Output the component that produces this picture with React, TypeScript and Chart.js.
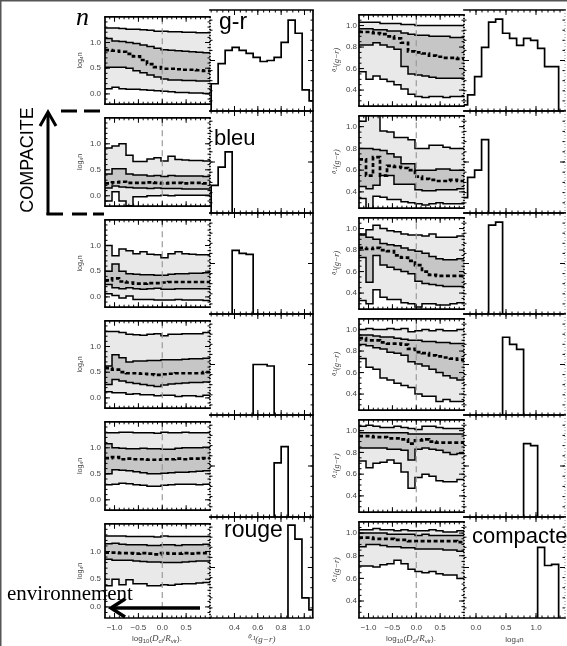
import { useEffect, useRef } from "react";
import { Chart, registerables } from "chart.js";

Chart.register(...registerables);

// ---------- bin edges ----------
const DIST_EDGES = [-1.2, -1.053, -0.907, -0.76, -0.613, -0.467, -0.32, -0.173, -0.027, 0.12, 0.267, 0.413, 0.56, 0.707, 0.853, 1.0];
const GR_EDGES = [0.2, 0.26, 0.32, 0.38, 0.44, 0.5, 0.56, 0.62, 0.68, 0.74, 0.8, 0.86, 0.92, 0.98, 1.04, 1.1];
const LOGN_EDGES = [-0.257, -0.14, -0.023, 0.093, 0.21, 0.327, 0.443, 0.56, 0.677, 0.793, 0.91, 1.027, 1.143, 1.26, 1.377, 1.493];

// ---------- tick labels ----------
const DIST_TICKS = [-1.0, -0.5, 0.0, 0.5];
const LOGN_TICKS = [0.0, 0.5, 1.0];
const GR_TICKS = [0.4, 0.6, 0.8, 1.0];

// ---------- left pair: log4 n vs log10(Dcl/Rvir), per colour bin ----------
// rows of each: [p95, p75, median, p25, p05]
const N_ALL = [
  [1.28, 1.28, 1.27, 1.26, 1.26, 1.25, 1.24, 1.22, 1.22, 1.21, 1.21, 1.2, 1.2, 1.19, 1.19],
  [1.08, 1.03, 1.02, 1.0, 0.98, 0.95, 0.92, 0.89, 0.86, 0.85, 0.84, 0.83, 0.82, 0.81, 0.8],
  [0.85, 0.84, 0.82, 0.78, 0.73, 0.66, 0.58, 0.52, 0.49, 0.49, 0.48, 0.47, 0.47, 0.46, 0.45],
  [0.52, 0.52, 0.52, 0.5, 0.45, 0.41, 0.37, 0.33, 0.29, 0.27, 0.27, 0.26, 0.26, 0.25, 0.25],
  [0.1, 0.13, 0.1, 0.09, 0.09, 0.08, 0.07, 0.06, 0.05, 0.04, 0.03, 0.03, 0.02, 0.02, 0.01],
];
const N_BLEU = [
  [0.92, 0.96, 1.0, 0.78, 0.66, 0.66, 0.71, 0.73, 0.67, 0.76, 0.7, 0.69, 0.68, 0.68, 0.67],
  [0.42, 0.52, 0.52, 0.42, 0.4, 0.4, 0.38, 0.39, 0.37, 0.39, 0.38, 0.38, 0.38, 0.38, 0.37],
  [0.24, 0.26, 0.27, 0.25, 0.25, 0.25, 0.26, 0.25, 0.24, 0.25, 0.25, 0.24, 0.25, 0.25, 0.24],
  [0.15, 0.19, 0.17, 0.16, 0.15, 0.15, 0.14, 0.15, 0.14, 0.14, 0.14, 0.13, 0.13, 0.13, 0.13],
  [-0.1, 0.08, -0.1, -0.19, -0.02, -0.02, 0.0, 0.0, 0.01, 0.0, 0.01, 0.01, 0.01, 0.01, 0.01],
];
const N_C2 = [
  [1.0, 0.8, 0.93, 0.9, 0.84, 0.88, 0.83, 0.82, 0.76, 0.84, 0.88, 0.84, 0.83, 0.82, 0.82],
  [0.5, 0.64, 0.5, 0.45, 0.44, 0.43, 0.43, 0.42, 0.42, 0.44, 0.45, 0.45, 0.46, 0.46, 0.47],
  [0.32, 0.36, 0.3, 0.28, 0.26, 0.26, 0.27, 0.27, 0.28, 0.29, 0.29, 0.29, 0.29, 0.29, 0.29],
  [0.24, 0.18, 0.16, 0.18, 0.16, 0.15, 0.16, 0.17, 0.15, 0.15, 0.16, 0.16, 0.16, 0.16, 0.16],
  [0.06, 0.03, -0.02, 0.02, -0.05, -0.05, -0.05, -0.06, -0.06, -0.06, -0.05, -0.06, -0.06, -0.06, -0.07],
];
const N_C3 = [
  [1.29, 1.29, 1.27, 1.24, 1.23, 1.22, 1.24, 1.25, 1.21, 1.24, 1.24, 1.25, 1.25, 1.25, 1.27],
  [0.62, 0.84, 0.78, 0.7, 0.72, 0.72, 0.73, 0.73, 0.74, 0.74, 0.74, 0.75, 0.76, 0.76, 0.77],
  [0.58, 0.55, 0.5, 0.48, 0.48, 0.47, 0.46, 0.45, 0.46, 0.47, 0.48, 0.48, 0.48, 0.48, 0.5],
  [0.26, 0.36, 0.33, 0.3, 0.28, 0.26, 0.24, 0.22, 0.25, 0.27, 0.28, 0.29, 0.3, 0.3, 0.31],
  [0.12, 0.1, 0.1, 0.07, 0.08, 0.06, 0.06, 0.04, 0.05, 0.05, 0.03, 0.04, 0.04, 0.03, 0.05],
];
const N_C4 = [
  [1.29, 1.29, 1.3, 1.3, 1.29, 1.29, 1.29, 1.28, 1.3, 1.29, 1.29, 1.3, 1.29, 1.29, 1.29],
  [1.08, 1.0, 0.99, 0.98, 0.98, 0.99, 0.98, 0.98, 0.97, 0.97, 0.99, 1.0, 1.0, 1.0, 1.01],
  [0.8, 0.82, 0.78, 0.79, 0.78, 0.78, 0.77, 0.77, 0.78, 0.78, 0.79, 0.78, 0.79, 0.79, 0.8],
  [0.5, 0.58, 0.57, 0.56, 0.54, 0.52, 0.5, 0.5, 0.51, 0.52, 0.53, 0.53, 0.54, 0.55, 0.56],
  [0.29, 0.3, 0.32, 0.31, 0.29, 0.28, 0.26, 0.26, 0.28, 0.29, 0.3, 0.3, 0.3, 0.29, 0.3],
];
const N_ROUGE = [
  [1.28, 1.28, 1.28, 1.27, 1.27, 1.27, 1.27, 1.26, 1.28, 1.27, 1.27, 1.27, 1.27, 1.27, 1.27],
  [1.14, 1.15, 1.13, 1.12, 1.12, 1.12, 1.11, 1.11, 1.12, 1.12, 1.11, 1.12, 1.12, 1.12, 1.13],
  [0.98, 0.98, 0.97, 0.97, 0.96, 0.97, 0.96, 0.95, 0.97, 0.96, 0.96, 0.97, 0.96, 0.97, 0.97],
  [0.86, 0.84, 0.84, 0.84, 0.83, 0.82, 0.81, 0.81, 0.8, 0.8, 0.8, 0.81, 0.82, 0.83, 0.83],
  [0.38, 0.5, 0.4, 0.49, 0.42, 0.42, 0.38, 0.38, 0.4, 0.39, 0.41, 0.42, 0.42, 0.43, 0.44],
];

// ---------- right pair: 0.1(g-r) vs log10(Dcl/Rvir), per compactness bin ----------
const G_ALL = [
  [1.03, 1.03, 1.03, 1.02, 1.02, 1.02, 1.01, 1.01, 1.0, 1.0, 1.0, 1.0, 1.0, 1.0, 1.0],
  [0.97, 0.97, 0.96, 0.96, 0.95, 0.95, 0.93, 0.92, 0.91, 0.91, 0.9, 0.9, 0.9, 0.89, 0.89],
  [0.94, 0.94, 0.93, 0.92, 0.9, 0.88, 0.84, 0.76, 0.75, 0.74, 0.72, 0.71, 0.7, 0.7, 0.69],
  [0.82, 0.82, 0.84, 0.82, 0.8, 0.78, 0.62, 0.55, 0.54, 0.53, 0.52, 0.51, 0.51, 0.51, 0.51],
  [0.57, 0.5, 0.53, 0.5, 0.48, 0.45, 0.41, 0.36, 0.34, 0.33, 0.34, 0.34, 0.33, 0.34, 0.34],
];
const G_C1 = [
  [1.05, 1.15, 1.15, 0.96, 0.95, 0.9, 0.9, 0.88, 0.8, 0.8, 0.83, 0.83, 0.81, 0.8, 0.8],
  [0.8, 0.8, 0.79, 0.78, 0.75, 0.72, 0.66, 0.66, 0.6, 0.6, 0.6, 0.61, 0.61, 0.6, 0.6],
  [0.7, 0.55, 0.72, 0.55, 0.64, 0.63, 0.62, 0.6, 0.54, 0.52, 0.51, 0.5, 0.5, 0.51, 0.5],
  [0.45, 0.43, 0.46, 0.55, 0.55, 0.47, 0.47, 0.47, 0.42, 0.41, 0.41, 0.42, 0.42, 0.42, 0.43],
  [0.34, 0.2, 0.36, 0.35, 0.33, 0.33, 0.31, 0.3, 0.29, 0.28, 0.29, 0.3, 0.29, 0.29, 0.29],
];
const G_C2 = [
  [0.95, 0.99, 1.03, 1.0, 0.98, 0.97, 0.95, 0.94, 0.94, 0.93, 0.95, 0.92, 0.92, 0.92, 0.93],
  [0.94, 0.92, 0.9, 0.86, 0.85, 0.84, 0.82, 0.8, 0.79, 0.77, 0.74, 0.72, 0.71, 0.71, 0.72],
  [0.82, 0.81, 0.82, 0.8, 0.79, 0.75, 0.73, 0.7, 0.66, 0.6, 0.57, 0.56, 0.56, 0.56, 0.56],
  [0.73, 0.5, 0.75, 0.66, 0.64, 0.62, 0.6, 0.58, 0.51, 0.49, 0.48, 0.47, 0.46, 0.46, 0.46],
  [0.33, 0.3, 0.43, 0.36, 0.34, 0.34, 0.31, 0.3, 0.27, 0.3, 0.3, 0.29, 0.29, 0.3, 0.31],
];
const G_C3 = [
  [1.0, 1.01, 1.0, 1.0, 1.01, 1.0, 1.01, 0.98, 0.99, 1.0, 0.99, 1.0, 0.99, 0.99, 1.0],
  [0.95, 0.95, 0.94, 0.93, 0.93, 0.92, 0.91, 0.9, 0.9, 0.89, 0.89, 0.88, 0.88, 0.87, 0.87],
  [0.92, 0.9, 0.9, 0.88, 0.87, 0.87, 0.86, 0.82, 0.79, 0.78, 0.76, 0.75, 0.74, 0.73, 0.72],
  [0.86, 0.85, 0.83, 0.82, 0.79, 0.78, 0.76, 0.7, 0.68, 0.66, 0.63, 0.6, 0.57, 0.55, 0.53],
  [0.73, 0.65, 0.63, 0.55, 0.53, 0.5, 0.48, 0.46, 0.4, 0.38, 0.38, 0.33, 0.35, 0.33, 0.33],
];
const G_C4 = [
  [1.04, 1.05, 1.04, 1.03, 1.03, 1.04, 1.03, 1.02, 1.01, 1.04, 1.04, 1.03, 1.02, 1.02, 1.02],
  [0.98, 0.98, 0.98, 0.98, 0.98, 0.98, 0.98, 0.97, 0.97, 0.97, 0.97, 0.97, 0.97, 0.97, 0.97],
  [0.95, 0.95, 0.94, 0.94, 0.93, 0.93, 0.92, 0.88, 0.91, 0.92, 0.9, 0.89, 0.89, 0.89, 0.89],
  [0.84, 0.84, 0.84, 0.84, 0.83, 0.83, 0.82, 0.73, 0.83, 0.84, 0.83, 0.82, 0.8, 0.78, 0.79],
  [0.72, 0.66, 0.7, 0.71, 0.73, 0.7, 0.62, 0.47, 0.57, 0.6, 0.58, 0.54, 0.53, 0.53, 0.55],
];
const G_COMPACT = [
  [1.03, 1.03, 1.04, 1.03, 1.03, 1.02, 1.03, 1.02, 1.02, 1.02, 1.03, 1.02, 1.01, 1.01, 1.02],
  [1.0, 1.0, 1.0, 1.0, 0.99, 0.99, 0.99, 0.99, 0.98, 0.99, 0.98, 0.98, 0.98, 0.98, 0.98],
  [0.96, 0.96, 0.95, 0.95, 0.95, 0.94, 0.94, 0.93, 0.93, 0.93, 0.93, 0.93, 0.93, 0.93, 0.92],
  [0.88, 0.9, 0.9, 0.89, 0.88, 0.88, 0.87, 0.87, 0.86, 0.86, 0.86, 0.86, 0.85, 0.85, 0.84],
  [0.71, 0.71, 0.7, 0.72, 0.73, 0.76, 0.73, 0.68, 0.66, 0.65, 0.66, 0.64, 0.63, 0.63, 0.6],
];

// ---------- histograms (normalised heights) ----------
const GR_HIST_ALL = [0.27, 0.47, 0.6, 0.63, 0.6, 0.57, 0.53, 0.49, 0.5, 0.53, 0.68, 0.9, 0.77, 0.21, 0.1];
const GR_HIST_BLEU = [0.27, 0.45, 0.6, 0, 0, 0, 0, 0, 0, 0, 0, 0, 0, 0, 0];
const GR_HIST_C2 = [0, 0, 0, 0.63, 0.6, 0.59, 0, 0, 0, 0, 0, 0, 0, 0, 0];
const GR_HIST_C3 = [0, 0, 0, 0, 0, 0, 0.5, 0.5, 0.485, 0, 0, 0, 0, 0, 0];
const GR_HIST_C4 = [0, 0, 0, 0, 0, 0, 0, 0, 0, 0.53, 0.69, 0, 0, 0, 0];
const GR_HIST_ROUGE = [0, 0, 0, 0, 0, 0, 0, 0, 0, 0, 0, 0.92, 0.78, 0.2, 0.08];

const N_HIST_ALL = [0.06, 0.16, 0.34, 0.63, 0.88, 0.91, 0.77, 0.72, 0.65, 0.72, 0.7, 0.62, 0.44, 0.44, 0];
const N_HIST_C1 = [0.15, 0.35, 0.42, 0.72, 0, 0, 0, 0, 0, 0, 0, 0, 0, 0, 0];
const N_HIST_C2 = [0, 0, 0, 0, 0.88, 0.91, 0, 0, 0, 0, 0, 0, 0, 0, 0];
const N_HIST_C3 = [0, 0, 0, 0, 0, 0, 0.77, 0.7, 0.65, 0, 0, 0, 0, 0, 0];
const N_HIST_C4 = [0, 0, 0, 0, 0, 0, 0, 0, 0, 0.72, 0.7, 0, 0, 0, 0];
const N_HIST_COMPACT = [0, 0, 0, 0, 0, 0, 0, 0, 0, 0, 0, 0.7, 0.52, 0.53, 0];

const LEFT_PROFILES = [N_ALL, N_BLEU, N_C2, N_C3, N_C4, N_ROUGE];
const LEFT_HISTS = [GR_HIST_ALL, GR_HIST_BLEU, GR_HIST_C2, GR_HIST_C3, GR_HIST_C4, GR_HIST_ROUGE];
const RIGHT_PROFILES = [G_ALL, G_C1, G_C2, G_C3, G_C4, G_COMPACT];
const RIGHT_HISTS = [N_HIST_ALL, N_HIST_C1, N_HIST_C2, N_HIST_C3, N_HIST_C4, N_HIST_COMPACT];

// ---------- layout ----------
const ROW_EDGES = [10, 111, 213, 314, 415, 517, 618];
const COLS: any = { LP: [105, 210], LH: [210, 313], RP: [359, 464], RH: [464, 565] };
const LIGHT = "#e9e9e9";
const DARK = "#c6c6c6";
const SANS = "'Liberation Sans', Arial, Helvetica, sans-serif";
const SERIF = "'Liberation Serif', 'Times New Roman', serif";
const TICK_COLOR = "#444";

const fmt = (v: number) => (v < 0 ? "\u2212" : "") + Math.abs(v).toFixed(1);

function tickVals(min: number, max: number, step: number) {
  const out: number[] = [];
  const s = Math.ceil(min / step - 1e-9);
  for (let k = s; k * step <= max + 1e-9; k++) out.push(+(k * step).toFixed(6));
  return out;
}

const framePlugin = {
  id: "frame",
  afterDatasetsDraw(chart: any, _args: any, o: any) {
    const { ctx, chartArea: a } = chart;
    const xs = chart.scales.x;
    const ys = chart.scales.y;
    ctx.save();
    ctx.setLineDash([]);
    ctx.strokeStyle = "#000";
    const seg = (x1: number, y1: number, x2: number, y2: number) => {
      ctx.beginPath();
      ctx.moveTo(x1, y1);
      ctx.lineTo(x2, y2);
      ctx.stroke();
    };
    ctx.lineWidth = 1;
    const xt: any[] = [[o.xMinor, 2.5], [o.xMajor, 5]];
    for (const [vals, len] of xt)
      for (const v of vals) {
        const p = xs.getPixelForValue(v);
        if (p < a.left + 1 || p > a.right - 1) continue;
        seg(p, a.bottom, p, a.bottom - len);
        seg(p, a.top, p, a.top + len);
      }
    const yt: any[] = [[o.yMinor, 2.5], [o.yMajor, 5]];
    for (const [vals, len] of yt)
      for (const v of vals) {
        const p = ys.getPixelForValue(v);
        if (p < a.top + 1 || p > a.bottom - 1) continue;
        seg(a.left, p, a.left + len, p);
        seg(a.right, p, a.right - len, p);
      }
    ctx.lineWidth = 1.7;
    seg(a.left - 0.85, a.top, a.right + 0.85, a.top);
    seg(a.left - 0.85, a.bottom, a.right + 0.85, a.bottom);
    if (o.left === "solid") seg(a.left, a.top, a.left, a.bottom);
    if (o.right === "solid") seg(a.right, a.top, a.right, a.bottom);
    if (o.right === "dotted") {
      ctx.setLineDash([1.5, 1.5]);
      seg(a.right, a.top, a.right, a.bottom);
    }
    if (o.right === "gray") {
      ctx.strokeStyle = "#888";
      ctx.lineWidth = 1;
      ctx.setLineDash([1, 2]);
      seg(a.right, a.top, a.right, a.bottom);
    }
    ctx.restore();
  },
};

type Spec = { id: string; kind: "prof" | "hist"; pair: "L" | "R"; row: number; values: any };

function geometry(s: Spec) {
  const colKey = s.pair + (s.kind === "prof" ? "P" : "H");
  const [x0, x1] = COLS[colKey];
  const y0 = ROW_EDGES[s.row];
  const y1 = ROW_EDGES[s.row + 1];
  const bottom = s.row === 5;
  const padL = s.kind === "prof" ? (s.pair === "L" ? 29 : 27) : 2;
  const padB = bottom ? 28 : 2;
  return { x: x0 - padL, y: y0 - 2, w: x1 - x0 + padL + 2, h: y1 - y0 + 2 + padB, padL, bottom };
}

function stepPts(vals: number[]) {
  const pts = vals.map((v, i) => ({ x: DIST_EDGES[i], y: v }));
  pts.push({ x: DIST_EDGES[DIST_EDGES.length - 1], y: vals[vals.length - 1] });
  return pts;
}

function histPts(edges: number[], h: number[]) {
  let first = -1;
  let last = -1;
  h.forEach((v, i) => {
    if (v > 0) {
      if (first < 0) first = i;
      last = i;
    }
  });
  const pts = [{ x: edges[first], y: 0 }];
  for (let i = first; i <= last; i++) pts.push({ x: edges[i], y: h[i] });
  pts.push({ x: edges[last + 1], y: 0 });
  return pts;
}

function buildConfig(s: Spec): any {
  const g = geometry(s);
  const prof = s.kind === "prof";
  const L = s.pair === "L";
  const xr = prof ? [-1.2, 1.0] : L ? [0.19, 1.073] : [-0.2, 1.483];
  const yr = prof ? (L ? [-0.2, 1.5] : [0.25, 1.1]) : [0, 1];
  const xTicks = prof ? DIST_TICKS : L ? GR_TICKS : LOGN_TICKS;
  const yTicks = prof ? (L ? LOGN_TICKS : GR_TICKS) : [0, 0.5, 1];
  const xMinorStep = prof ? 0.1 : L ? 0.05 : 0.1;
  const yMinorStep = prof ? (L ? 0.1 : 0.05) : 0.1;

  const base = { stepped: "before", pointRadius: 0, borderColor: "#000", borderWidth: 1.5, fill: false };
  let datasets: any[];
  if (prof) {
    const [p95, p75, p50, p25, p05] = s.values;
    datasets = [
      { data: [{ x: 0, y: yr[0] }, { x: 0, y: yr[1] }], borderColor: "#9a9a9a", borderWidth: 1.2, borderDash: [6, 4], pointRadius: 0, fill: false },
      { ...base, data: stepPts(p50), borderWidth: 2.7, borderDash: [4, 2.5] },
      { ...base, data: stepPts(p75), fill: { target: "+1" }, backgroundColor: DARK },
      { ...base, data: stepPts(p25) },
      { ...base, data: stepPts(p95), fill: { target: "+1" }, backgroundColor: LIGHT },
      { ...base, data: stepPts(p05) },
    ];
  } else {
    datasets = [{ ...base, borderWidth: 1.7, data: histPts(L ? GR_EDGES : LOGN_EDGES, s.values) }];
  }

  const xTitle = !prof ? (L ? "\u2070\u00b7\u00b9(g\u2212r)" : "log\u2084n") : "";
  const yTitle = L ? "log\u2084n" : "\u2070\u00b7\u00b9(g\u2212r)";

  return {
    type: "line",
    data: { datasets },
    plugins: [framePlugin],
    options: {
      animation: false,
      responsive: false,
      devicePixelRatio: 1,
      events: [],
      layout: { padding: { left: prof ? 0 : 2, right: 2, top: 2, bottom: g.bottom ? 0 : 2 } },
      plugins: {
        legend: { display: false },
        tooltip: { enabled: false },
        filler: { drawTime: "beforeDatasetsDraw" },
        frame: {
          xMajor: xTicks,
          xMinor: tickVals(xr[0], xr[1], xMinorStep),
          yMajor: yTicks,
          yMinor: tickVals(yr[0], yr[1], yMinorStep),
          left: prof ? "solid" : "none",
          right: prof ? "dotted" : L ? "solid" : "gray",
        },
      },
      scales: {
        x: {
          type: "linear",
          min: xr[0],
          max: xr[1],
          display: g.bottom,
          position: "bottom",
          grid: { display: false, drawTicks: false },
          border: { display: false },
          afterBuildTicks: (sc: any) => {
            sc.ticks = xTicks.map((v) => ({ value: v }));
          },
          afterFit: (sc: any) => {
            if (g.bottom) sc.height = 28;
          },
          ticks: {
            autoSkip: false,
            maxRotation: 0,
            minRotation: 0,
            padding: 5,
            color: TICK_COLOR,
            font: { family: SANS, size: 8 },
            callback: (v: any) => fmt(Number(v)),
          },
          title: {
            display: !prof,
            text: xTitle,
            color: TICK_COLOR,
            padding: { top: 0, bottom: 1 },
            font: L ? { family: SERIF, size: 9, style: "italic" } : { family: SANS, size: 8 },
          },
        },
        y: {
          type: "linear",
          min: yr[0],
          max: yr[1],
          display: prof,
          position: "left",
          grid: { display: false, drawTicks: false },
          border: { display: false },
          afterBuildTicks: (sc: any) => {
            sc.ticks = yTicks.map((v) => ({ value: v }));
          },
          afterFit: (sc: any) => {
            if (prof) sc.width = g.padL;
          },
          ticks: {
            autoSkip: false,
            padding: L ? 4 : 2,
            color: TICK_COLOR,
            font: { family: SANS, size: 8 },
            callback: (v: any) => fmt(Number(v)),
          },
          title: {
            display: prof,
            text: yTitle,
            color: TICK_COLOR,
            padding: { top: 0, bottom: 0 },
            font: L ? { family: SANS, size: 7 } : { family: SERIF, size: 8, style: "italic" },
          },
        },
      },
    },
  };
}

function Panel({ spec }: { spec: Spec }) {
  const ref = useRef<HTMLCanvasElement>(null);
  const g = geometry(spec);
  useEffect(() => {
    const chart = new Chart(ref.current as HTMLCanvasElement, buildConfig(spec));
    return () => chart.destroy();
  }, []);
  return (
    <canvas
      ref={ref}
      width={g.w}
      height={g.h}
      style={{ position: "absolute", left: g.x, top: g.y, width: g.w, height: g.h }}
    />
  );
}

const SPECS: Spec[] = [];
for (let r = 0; r < 6; r++) {
  SPECS.push({ id: `lp${r}`, kind: "prof", pair: "L", row: r, values: LEFT_PROFILES[r] });
  SPECS.push({ id: `lh${r}`, kind: "hist", pair: "L", row: r, values: LEFT_HISTS[r] });
  SPECS.push({ id: `rp${r}`, kind: "prof", pair: "R", row: r, values: RIGHT_PROFILES[r] });
  SPECS.push({ id: `rh${r}`, kind: "hist", pair: "R", row: r, values: RIGHT_HISTS[r] });
}

function DistTitle({ cx }: { cx: number }) {
  return (
    <text x={cx} y={641} textAnchor="middle" fontFamily={SANS} fontSize={8} fill={TICK_COLOR}>
      log
      <tspan fontSize={6} dy={2}>10</tspan>
      <tspan dy={-2}>(</tspan>
      <tspan fontFamily={SERIF} fontStyle="italic" fontSize={9}>D</tspan>
      <tspan fontSize={6} dy={2}>cl</tspan>
      <tspan dy={-2}>/</tspan>
      <tspan fontFamily={SERIF} fontStyle="italic" fontSize={9}>R</tspan>
      <tspan fontSize={6} dy={2}>vir</tspan>
      <tspan dy={-2}>).</tspan>
    </text>
  );
}

export default function App() {
  return (
    <div
      style={{
        position: "fixed",
        left: 0,
        top: 0,
        width: 567,
        height: 646,
        overflow: "hidden",
        background: "#fff",
      }}
    >
      {SPECS.map((s) => (
        <Panel key={s.id} spec={s} />
      ))}
      <svg width={567} height={646} style={{ position: "absolute", left: 0, top: 0, pointerEvents: "none" }}>
        <line x1={0} y1={0.75} x2={567} y2={0.75} stroke="#555" strokeWidth={1.5} />
        <line x1={0.75} y1={0} x2={0.75} y2={646} stroke="#555" strokeWidth={1.5} />

        <text x={76} y={25} fontFamily={SERIF} fontStyle="italic" fontSize={26} fill="#000">n</text>
        <text x={219} y={29} fontFamily={SANS} fontSize={23} fill="#000">g-r</text>
        <text x={214} y={145} fontFamily={SANS} fontSize={22} fill="#000">bleu</text>
        <text x={224} y={537} fontFamily={SANS} fontSize={23} fill="#000">rouge</text>
        <text x={472} y={543} fontFamily={SANS} fontSize={22} fill="#000">compacte</text>
        <text transform="translate(33,160) rotate(-90)" textAnchor="middle" fontFamily={SANS} fontSize={18} fill="#000">
          COMPACITE
        </text>
        <text x={7} y={600} fontFamily={SERIF} fontSize={21} fill="#000">environnement</text>

        {/* compactness arrow */}
        <line x1={48} y1={215} x2={48} y2={114} stroke="#000" strokeWidth={3} />
        <polyline points="40,126 48,112 56,126" fill="none" stroke="#000" strokeWidth={3} />
        <line x1={61} y1={111} x2={77} y2={111} stroke="#000" strokeWidth={3} />
        <line x1={84} y1={111} x2={100} y2={111} stroke="#000" strokeWidth={3} />
        <line x1={46.5} y1={214} x2={63} y2={214} stroke="#000" strokeWidth={3} />
        <line x1={72} y1={214} x2={87} y2={214} stroke="#000" strokeWidth={3} />
        <line x1={93} y1={214} x2={104} y2={214} stroke="#000" strokeWidth={3} />

        {/* environment arrow */}
        <line x1={200} y1={608} x2={113} y2={608} stroke="#000" strokeWidth={3.5} />
        <polyline points="125,599 111,608 125,617" fill="none" stroke="#000" strokeWidth={3.5} />

        <DistTitle cx={157} />
        <DistTitle cx={411} />
      </svg>
    </div>
  );
}
